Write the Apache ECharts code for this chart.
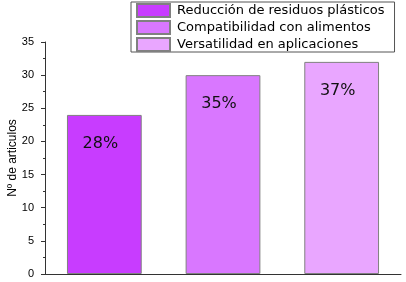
<!DOCTYPE html>
<html>
<head>
<meta charset="utf-8">
<script src="https://cdn.jsdelivr.net/npm/echarts@6/dist/echarts.min.js"></script>
<style>
  html, body { margin: 0; padding: 0; background: #fff; }
  #main { width: 406px; height: 282px; }
</style>
</head>
<body>
<div id="main"></div>
<script>
// datos
var categorias = ['Reducción de residuos plásticos', 'Compatibilidad con alimentos', 'Versatilidad en aplicaciones'];
var articulos = [24, 30, 32];
var porcentajes = ['28%', '35%', '37%'];
var colores = ['#C83CFF', '#D977FF', '#E9A6FF'];
var yTicks = [0, 5, 10, 15, 20, 25, 30, 35];

var chart = echarts.init(document.getElementById('main'));

// una serie por categoria, apiladas para que cada barra quede centrada
var series = categorias.map(function (nombre, i) {
  return {
    name: nombre,
    type: 'bar',
    stack: 'total',
    barWidth: '63%',
    itemStyle: { color: colores[i], borderColor: '#808080', borderWidth: 1 },
    label: {
      show: true,
      position: 'insideTop',
      distance: 21,
      offset: [-4, 0],
      fontFamily: 'DejaVu Sans',
      fontSize: 16,
      color: '#111',
      formatter: function () { return porcentajes[i]; }
    },
    data: categorias.map(function (c, j) { return j === i ? articulos[i] : '-'; })
  };
});

chart.setOption({
  animation: false,
  textStyle: { fontFamily: 'Liberation Sans' },
  legend: {
    orient: 'vertical',
    left: 131,
    top: 2,
    padding: [1, 10, 0, 5],
    itemGap: 2,
    itemWidth: 33,
    itemHeight: 13,
    borderColor: '#555',
    borderWidth: 1,
    icon: 'rect',
    textStyle: { fontFamily: 'DejaVu Sans', fontSize: 13, color: '#000', padding: [0, 0, 0, 2] },
    data: categorias
  },
  grid: { left: 45, right: 5, top: 42, bottom: 8, outerBoundsMode: 'none' },
  xAxis: {
    type: 'category',
    data: categorias,
    axisLine: { lineStyle: { color: '#333', width: 1 } },
    axisTick: { alignWithLabel: true, length: 4, lineStyle: { color: '#333' } },
    axisLabel: { show: false }
  },
  yAxis: {
    type: 'value',
    min: 0,
    max: 35,
    interval: 5,
    name: 'Nº de articulos',
    nameLocation: 'middle',
    nameGap: 26,
    nameMoveOverlap: false,
    nameTextStyle: { fontSize: 12, color: '#000' },
    axisLine: { show: true, lineStyle: { color: '#333', width: 1 } },
    axisTick: { show: true, length: 4, lineStyle: { color: '#333' } },
    minorTick: { show: true, splitNumber: 2, length: 2, lineStyle: { color: '#333' } },
    splitLine: { show: false },
    axisLabel: {
      fontSize: 11,
      color: '#000',
      margin: 11,
      formatter: function (v) { return yTicks.indexOf(v) >= 0 ? String(v) : ''; }
    }
  },
  series: series
});
</script>
</body>
</html>
